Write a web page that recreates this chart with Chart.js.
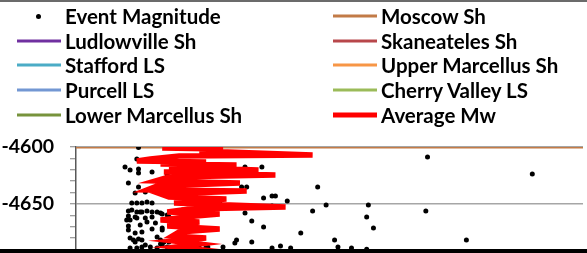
<!DOCTYPE html>
<html>
<head>
<meta charset="utf-8">
<script src="https://cdn.jsdelivr.net/npm/chart.js@4.4.1/dist/chart.umd.min.js"></script>
<style>
  html, body { margin: 0; padding: 0; background: #fff; }
  #wrap { position: relative; width: 587px; height: 253px; overflow: hidden; background: #fff; }
  #cv { position: absolute; left: 0; top: 0; width: 587px; height: 291px; }
  #topline { position: absolute; left: 0; top: 0; width: 587px; height: 2px; background: #6b6b6b; }
  #bottomline { position: absolute; left: 0; top: 249px; width: 587px; height: 4px; background: #000; }
  #legend {
    position: absolute; left: 17px; top: 4px;
    display: grid; grid-template-columns: 316px 254px; grid-auto-rows: 24.6px;
    font: bold 20.5px Lato, "Open Sans", sans-serif; color: #000;
  }
  .item { display: flex; align-items: center; white-space: nowrap; }
  .mark { position: relative; width: 44px; height: 5px; margin-right: 4px; }
  .mark i { position: absolute; left: 0; right: 0; top: 50%; transform: translateY(-50%); }
  .mark b { position: absolute; left: 19px; top: 0; width: 5px; height: 5px; border-radius: 50%; background: #000; }
</style>
</head>
<body>
<div id="wrap">
  <div id="cv"><canvas id="chart"></canvas></div>
  <div id="legend"></div>
  <div id="topline"></div>
  <div id="bottomline"></div>
</div>
<script>
// axis limits (x = magnitude, y = depth in ft)
const xMin = -3, xMax = 0;
const yMin = -4700, yMax = -4600;

// microseismic events
const eventMw = [
  -2.63, -2.33, -2.64, -2.71, -2.68, -2.63, -2.63, -2.55, -2.46, -2.43,
  -2.38, -2.13, -2.00, -1.90, -2.69, -2.63, -2.65, -2.59, -2.31, -2.02,
  -1.99, -1.89, -1.84, -1.82, -1.75, -1.57, -2.67, -2.64, -2.61, -2.58,
  -2.55, -2.15, -2.37, -2.27, -1.84, -1.60, -1.52, -1.27, -0.93, -0.92,
  -1.28, -1.24, -1.67, -1.47, -1.45, -1.37, -1.28, -0.30, -0.69, -1.96,
  -1.89, -2.05, -2.06, -1.96, -1.79, -1.73, -1.84, -2.22, -2.27, -2.13,
  -2.29, -2.21, -2.00, -2.49, -2.53, -2.69, -2.67, -2.64, -2.62, -2.61,
  -2.58, -2.55, -2.52, -2.50, -2.49, -2.46, -2.45, -2.69, -2.65, -2.59,
  -2.58, -2.62, -2.69, -2.68, -2.65, -2.61, -2.55, -2.69, -2.68, -2.66,
  -2.65, -2.63, -2.61, -2.52, -2.50, -2.61, -2.56, -2.52, -2.68, -2.64,
  -2.46, -2.43, -2.39, -2.35, -2.50, -2.48, -2.70, -2.64, -2.55, -2.49,
  -2.59, -2.49, -2.45, -2.23
];
const eventDepth = [
  -4600.5, -4600.5, -4610.5, -4617.5, -4620.2, -4619.3, -4622.8, -4621.9, -4624.6, -4627.2,
  -4618.4, -4619.3, -4617.5, -4617.5, -4631.6, -4635.1, -4640.3, -4639.5, -4644.7, -4635.1,
  -4635.1, -4644.7, -4643.0, -4643.0, -4647.4, -4635.1, -4649.1, -4649.1, -4649.1, -4648.2,
  -4649.1, -4649.1, -4655.3, -4653.5, -4651.7, -4656.1, -4650.9, -4650.9, -4656.1, -4608.8,
  -4661.4, -4671.0, -4675.4, -4681.6, -4687.7, -4688.6, -4689.8, -4623.7, -4681.6, -4664.9,
  -4670.2, -4681.6, -4684.2, -4683.3, -4686.8, -4688.6, -4688.6, -4687.7, -4688.6, -4687.7,
  -4657.9, -4657.9, -4657.9, -4671.0, -4666.7, -4656.1, -4655.3, -4657.0, -4657.0, -4657.0,
  -4656.1, -4657.0, -4657.0, -4657.9, -4658.8, -4659.6, -4661.4, -4660.5, -4661.4, -4662.3,
  -4665.8, -4668.4, -4669.3, -4664.0, -4675.4, -4674.5, -4671.9, -4672.8, -4679.8, -4681.6,
  -4683.3, -4680.7, -4681.6, -4678.9, -4681.6, -4687.7, -4687.7, -4688.6, -4688.6, -4688.6,
  -4687.7, -4688.6, -4689.5, -4689.5, -4685.1, -4683.3, -4664.0, -4662.3, -4661.4, -4672.8,
  -4685.9, -4685.9, -4683.3, -4687.7
];

// running average magnitude vs depth
const avgMw = [
  -2.49, -2.13, -2.27, -1.60, -2.39, -2.56, -2.64, -2.23, -2.50, -2.05,
  -2.45, -1.92, -2.48, -1.82, -2.45, -2.53, -2.03, -2.52, -2.58, -1.99,
  -2.50, -2.45, -2.11, -2.42, -1.76, -2.33, -2.46, -2.15, -2.29, -2.50,
  -2.27, -2.46, -2.15, -2.39, -2.43, -2.23, -2.42, -2.27, -2.41, -2.24,
  -2.36
];
const avgDepth = [
  -4600.9, -4601.8, -4603.5, -4607.0, -4607.9, -4610.5, -4612.3, -4613.2, -4614.9, -4615.8,
  -4617.5, -4620.2, -4621.9, -4624.6, -4626.3, -4629.8, -4631.6, -4634.2, -4637.7, -4638.6,
  -4641.2, -4643.9, -4645.6, -4649.1, -4652.6, -4654.4, -4657.0, -4658.8, -4660.5, -4664.0,
  -4665.8, -4669.3, -4671.9, -4674.6, -4678.1, -4679.8, -4682.5, -4685.1, -4687.7, -4690.4,
  -4693.0
];

// formation tops (ft)
const formationNames = ["Moscow Sh", "Ludlowville Sh", "Skaneateles Sh", "Stafford LS",
  "Upper Marcellus Sh", "Purcell LS", "Cherry Valley LS", "Lower Marcellus Sh"];
const formationTops = [-4600, -4745, -4790, -4800, -4830, -4838, -4842, -4870];
const formationColors = ["#c27b47", "#7030a0", "#b8474b", "#4bacc6",
  "#f79646", "#7397d3", "#9bbb59", "#77933c"];

const datasets = [{
  label: "Event Magnitude",
  data: eventMw.map((m, i) => ({ x: m, y: eventDepth[i] })),
  backgroundColor: "#000",
  borderWidth: 0,
  pointRadius: 2.5,
  order: 1
}];
formationNames.forEach((name, i) => {
  datasets.push({
    label: name,
    data: [{ x: xMin, y: formationTops[i] }, { x: xMax, y: formationTops[i] }],
    showLine: true,
    borderColor: formationColors[i],
    borderWidth: 3,
    pointRadius: 0,
    order: 2
  });
});
datasets.push({
  label: "Average Mw",
  data: avgMw.map((m, i) => ({ x: m, y: avgDepth[i] })),
  showLine: true,
  borderColor: "#ff0000",
  borderWidth: 5.5,
  pointRadius: 0,
  tension: 0,
  order: 0
});

// y axis tick labels leave (label height / 2 + padding) below the plot,
// so bottom padding 30 keeps the plot bottom at a fixed place
const chart = new Chart(document.getElementById("chart"), {
  type: "scatter",
  data: { datasets },
  options: {
    responsive: true,
    maintainAspectRatio: false,
    animation: false,
    layout: { padding: { top: 147, right: 2, bottom: 30, left: 0 } },
    plugins: { legend: { display: false }, tooltip: { enabled: false } },
    scales: {
      x: { type: "linear", display: false, min: xMin, max: xMax },
      y: {
        type: "linear",
        min: yMin, max: yMax,
        afterFit: s => { s.width = 76; },
        border: { color: "#595959", width: 1.5 },
        grid: {
          color: c => (c.tick && c.tick.value % 50 === 0) ? "#a6a6a6" : "rgba(0,0,0,0)",
          lineWidth: 1.5,
          tickLength: 6,
          tickColor: "#7f7f7f",
          tickWidth: 1
        },
        ticks: {
          stepSize: 10,
          autoSkip: false,
          padding: 16,
          color: "#000",
          font: { family: "Lato", weight: "bold", size: 19.5 },
          callback: v => (v % 50 === 0 ? v : "")
        }
      }
    }
  }
});

// html legend, two columns like the original
const legendBox = document.getElementById("legend");
chart.data.datasets.forEach(ds => {
  const item = document.createElement("div");
  item.className = "item";
  const mark = document.createElement("span");
  mark.className = "mark";
  if (ds.showLine) {
    const ln = document.createElement("i");
    ln.style.height = Math.min(ds.borderWidth, 5) + "px";
    ln.style.background = ds.borderColor;
    mark.appendChild(ln);
  } else {
    mark.appendChild(document.createElement("b"));
  }
  item.appendChild(mark);
  item.appendChild(document.createTextNode(ds.label));
  legendBox.appendChild(item);
});
</script>
</body>
</html>
